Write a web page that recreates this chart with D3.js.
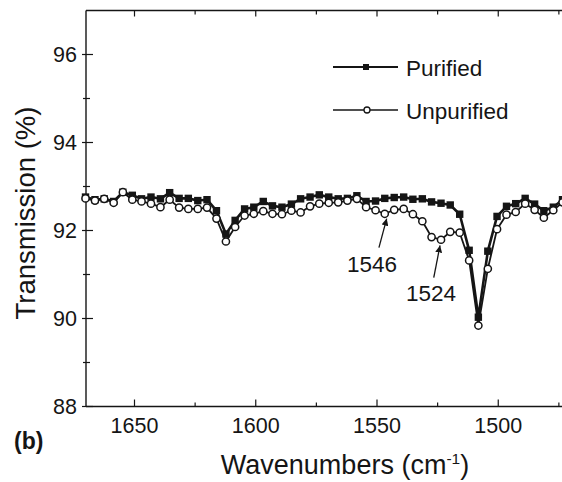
<!DOCTYPE html>
<html><head><meta charset="utf-8">
<script src="https://cdn.jsdelivr.net/npm/d3@7"></script>
<style>
html,body{margin:0;padding:0;background:#fff;}
svg{display:block;font-family:"Liberation Sans",Arial,sans-serif;}
</style></head>
<body>
<svg id="chart" width="562" height="482"></svg>
<script>
const wavenumbers = [1670.2,1666.3,1662.5,1658.6,1654.8,1650.9,1647.1,1643.2,1639.3,1635.5,
  1631.6,1627.8,1623.9,1620.1,1616.2,1612.3,1608.5,1604.6,1600.8,1596.9,
  1593.1,1589.2,1585.3,1581.5,1577.6,1573.8,1569.9,1566.0,1562.2,1558.3,
  1554.5,1550.6,1546.8,1542.9,1539.0,1535.2,1531.3,1527.5,1523.6,1519.8,
  1515.9,1512.0,1508.2,1504.3,1500.5,1496.6,1492.8,1488.9,1485.0,1481.2,
  1477.3,1473.5];
const purified = [92.76,92.70,92.72,92.66,92.87,92.80,92.72,92.76,92.72,92.86,
  92.73,92.73,92.68,92.70,92.45,91.92,92.23,92.49,92.53,92.66,
  92.56,92.53,92.60,92.72,92.76,92.81,92.76,92.72,92.73,92.79,
  92.66,92.67,92.73,92.75,92.76,92.71,92.72,92.65,92.62,92.58,
  92.37,91.55,90.03,91.53,92.32,92.55,92.61,92.73,92.60,92.45,
  92.53,92.70];
const unpurified = [92.73,92.68,92.72,92.63,92.87,92.70,92.66,92.61,92.53,92.70,
  92.52,92.49,92.49,92.52,92.27,91.75,92.08,92.34,92.38,92.44,
  92.38,92.37,92.45,92.41,92.55,92.61,92.63,92.64,92.68,92.72,
  92.53,92.46,92.38,92.47,92.49,92.37,92.21,91.85,91.79,91.97,
  91.95,91.32,89.84,91.13,92.03,92.36,92.42,92.61,92.47,92.29,
  92.46,92.64];
const xTicks = [1650,1600,1550,1500];
const xMinorTicks = [1675,1625,1575,1525,1475];
const yTicks = [88,90,92,94,96];
const yMinorTicks = [89,91,93,95];
const seriesNames = ["Purified","Unpurified"];
const annotations = [
  {label:"1546", w:1546, v:92.27, tailW:1549.2, tailV:91.61},
  {label:"1524", w:1524, v:91.66, tailW:1526.6, tailV:90.93}
];

const svg = d3.select("#chart");
const pL = 86, pR = 571, pT = 10.5, pB = 406.5;
const x = d3.scaleLinear().domain([1670,1470]).range([pL,pR]);
const y = d3.scaleLinear().domain([88,97]).range([pB,pT]);
const ink = "#151515";

// frame
svg.append("line").attr("x1",pL).attr("x2",pL).attr("y1",pT).attr("y2",pB+0.5).attr("stroke",ink).attr("stroke-width",1.4);
svg.append("line").attr("x1",pL).attr("x2",pR).attr("y1",pB).attr("y2",pB).attr("stroke",ink).attr("stroke-width",1.4);
svg.append("line").attr("x1",pL).attr("x2",pR).attr("y1",pT).attr("y2",pT).attr("stroke",ink).attr("stroke-width",1.4);

// x ticks (inward, bottom and top)
const gx = svg.append("g");
xTicks.forEach(t=>{
  gx.append("line").attr("x1",x(t)).attr("x2",x(t)).attr("y1",pB).attr("y2",pB-7).attr("stroke",ink).attr("stroke-width",1.2);
  gx.append("line").attr("x1",x(t)).attr("x2",x(t)).attr("y1",pT).attr("y2",pT+6).attr("stroke",ink).attr("stroke-width",1.2);
  gx.append("text").attr("x",x(t)).attr("y",433).attr("text-anchor","middle").attr("font-size",21.5).attr("fill",ink).text(t);
});
xMinorTicks.forEach(t=>{
  if (x(t) < pL) return;
  gx.append("line").attr("x1",x(t)).attr("x2",x(t)).attr("y1",pB).attr("y2",pB-4).attr("stroke",ink).attr("stroke-width",1.2);
  gx.append("line").attr("x1",x(t)).attr("x2",x(t)).attr("y1",pT).attr("y2",pT+4).attr("stroke",ink).attr("stroke-width",1.2);
});
// y ticks (crossing)
const gy = svg.append("g");
yTicks.forEach(t=>{
  gy.append("line").attr("x1",pL-4).attr("x2",pL+7).attr("y1",y(t)).attr("y2",y(t)).attr("stroke",ink).attr("stroke-width",1.2);
  gy.append("text").attr("x",77).attr("y",y(t)).attr("dy","0.36em").attr("text-anchor","end").attr("font-size",21.5).attr("fill",ink).text(t);
});
yMinorTicks.forEach(t=>{
  gy.append("line").attr("x1",pL-3).attr("x2",pL+4).attr("y1",y(t)).attr("y2",y(t)).attr("stroke",ink).attr("stroke-width",1.2);
});

// axis titles
svg.append("text").attr("transform","translate(35,213) rotate(-90)").attr("text-anchor","middle")
  .attr("font-size",27.5).attr("fill",ink).text("Transmission (%)");
const xt = svg.append("text").attr("x",345).attr("y",474).attr("text-anchor","middle").attr("font-size",27).attr("fill",ink);
xt.append("tspan").text("Wavenumbers (cm");
xt.append("tspan").attr("font-size",15.5).attr("dy",-10).text("-1");
xt.append("tspan").attr("dy",10).text(")");
svg.append("text").attr("x",14).attr("y",449).attr("font-size",23).attr("font-weight","bold").attr("fill",ink).text("(b)");

// series
const data = wavenumbers.map((w,i)=>({w, p:purified[i], u:unpurified[i]}));
const lineP = d3.line().x(d=>x(d.w)).y(d=>y(d.p));
const lineU = d3.line().x(d=>x(d.w)).y(d=>y(d.u));
svg.append("path").datum(data).attr("d",lineP).attr("fill","none").attr("stroke",ink).attr("stroke-width",2.6).attr("stroke-linejoin","round");
svg.append("g").selectAll("rect").data(data).join("rect")
  .attr("x",d=>x(d.w)-3.7).attr("y",d=>y(d.p)-3.7).attr("width",7.4).attr("height",7.4).attr("fill",ink);
svg.append("path").datum(data).attr("d",lineU).attr("fill","none").attr("stroke",ink).attr("stroke-width",1.8).attr("stroke-linejoin","round");
svg.append("g").selectAll("circle").data(data).join("circle")
  .attr("cx",d=>x(d.w)).attr("cy",d=>y(d.u)).attr("r",3.6).attr("fill","#fff").attr("stroke",ink).attr("stroke-width",1.5);

// annotations
svg.append("defs").append("marker").attr("id","ah").attr("viewBox","0 0 10 10").attr("refX",10).attr("refY",5)
  .attr("markerWidth",7).attr("markerHeight",7).attr("markerUnits","userSpaceOnUse").attr("orient","auto")
  .append("path").attr("d","M0,0 L10,5 L0,10 z").attr("fill",ink);
annotations.forEach(a=>{
  svg.append("line").attr("x1",x(a.tailW)).attr("y1",y(a.tailV)).attr("x2",x(a.w)).attr("y2",y(a.v))
    .attr("stroke",ink).attr("stroke-width",1.3).attr("marker-end","url(#ah)");
});
svg.append("text").attr("x",372).attr("y",272).attr("text-anchor","middle").attr("font-size",22.5).attr("fill",ink).text(annotations[0].label);
svg.append("text").attr("x",431).attr("y",301).attr("text-anchor","middle").attr("font-size",22.5).attr("fill",ink).text(annotations[1].label);

// legend
const lg = svg.append("g");
lg.append("line").attr("x1",333).attr("x2",398).attr("y1",67).attr("y2",67).attr("stroke",ink).attr("stroke-width",2.2);
lg.append("rect").attr("x",363).attr("y",64).attr("width",6).attr("height",6).attr("fill",ink);
lg.append("text").attr("x",406).attr("y",76).attr("font-size",22.5).attr("fill",ink).text(seriesNames[0]);
lg.append("line").attr("x1",333).attr("x2",398).attr("y1",110).attr("y2",110).attr("stroke",ink).attr("stroke-width",1.6);
lg.append("circle").attr("cx",367).attr("cy",110).attr("r",3).attr("fill","#fff").attr("stroke",ink).attr("stroke-width",1.3);
lg.append("text").attr("x",406).attr("y",119).attr("font-size",22.5).attr("fill",ink).text(seriesNames[1]);
</script>
</body></html>
